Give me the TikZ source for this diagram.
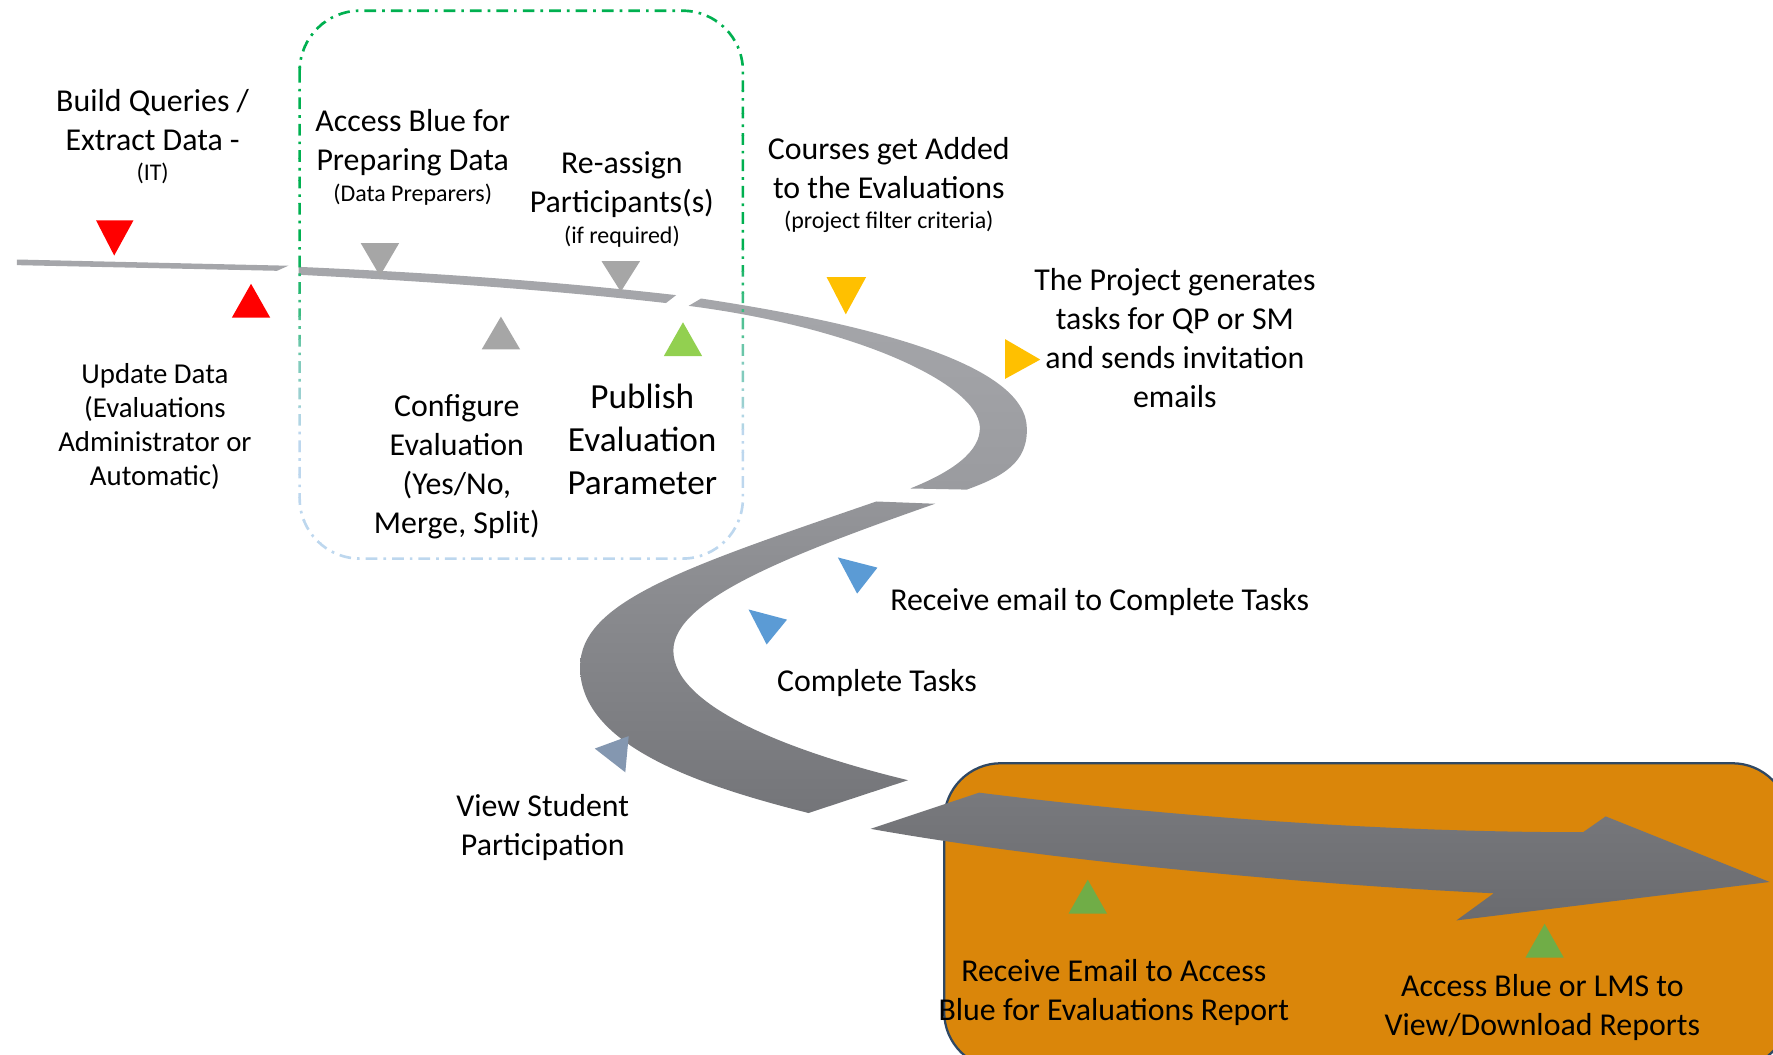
\documentclass[tikz,border=0pt]{standalone}
\usepackage{fontspec}
\setmainfont{Carlito}
\usepackage{tikz}
\usetikzlibrary{calc}

\definecolor{mkred}{RGB}{255,0,0}
\definecolor{mkgrey}{RGB}{166,166,166}
\definecolor{mklime}{RGB}{146,208,80}
\definecolor{mkyellow}{RGB}{255,192,0}
\definecolor{mkblue}{RGB}{91,155,213}
\definecolor{mksteel}{RGB}{132,151,176}
\definecolor{mkgreen}{RGB}{112,173,71}
\definecolor{boxgreen}{RGB}{0,176,80}
\definecolor{boxblue}{RGB}{189,215,238}
\definecolor{boxorange}{RGB}{218,134,10}
\definecolor{boxedge}{RGB}{47,72,100}
\definecolor{roadA}{RGB}{165,166,170}
\definecolor{roadB}{RGB}{154,155,159}
\definecolor{roadC}{RGB}{148,149,153}
\definecolor{roadD}{RGB}{116,117,121}
\definecolor{roadE}{RGB}{120,121,125}
\definecolor{roadF}{RGB}{106,107,111}

\begin{document}
\begin{tikzpicture}[x=0.6pt,y=-0.6pt,
  txt/.style={align=center,inner sep=0pt,font=\fontsize{16.9}{20.7}\selectfont},
  sub/.style={align=center,inner sep=0pt,font=\fontsize{12.7}{15}\selectfont},
  big/.style={align=center,inner sep=0pt,font=\fontsize{18.7}{22.8}\selectfont},
  small/.style={align=center,inner sep=0pt,font=\fontsize{15.3}{18}\selectfont},
  boxline/.style={line width=1.4pt,rounded corners=32pt,
    dash pattern=on 6.2pt off 3.2pt on 1.4pt off 3.2pt}]
\useasboundingbox (0,0) rectangle (1568,933);

% report box
\draw[draw=boxedge,fill=boxorange,line width=1.2pt,rounded corners=30pt]
  (835,675) rectangle (1582,945);

% road
\fill[roadA] (15,229.5) -- (255,235) -- (245,239.5) -- (15,234.5) -- cycle;
\fill[roadA] (264,236) .. controls (400,242) and (500,250) .. (598,261)
  -- (589,268) .. controls (500,258) and (400,250) .. (264,243) -- cycle;
\shade[top color=roadA,bottom color=roadB]
  (620,264) .. controls (760,285) and (905,320) .. (908,377)
  .. controls (910,410) and (885,422) .. (855,433) -- (805,432)
  .. controls (840,418) and (868,400) .. (866.5,377)
  .. controls (864,340) and (760,290) .. (609,270.5) -- cycle;
\shade[top color=roadC,bottom color=roadD]
  (775,443.5) .. controls (605,502) and (513,532) .. (513,590)
  .. controls (513,660) and (620,695) .. (715,719) -- (803,690)
  .. controls (700,665) and (595,625) .. (595.5,575)
  .. controls (596,530) and (700,490) .. (827,445.5) -- cycle;
\shade[top color=roadE,bottom color=roadF]
  (770,733) -- (866,701) .. controls (1000,718) and (1200,736) .. (1400,736)
  -- (1420,722) -- (1565,780) -- (1288,814) -- (1321,790)
  .. controls (1150,782) and (920,760) .. (770,733) -- cycle;

% preparation box, green fading to blue
\foreach \b in {0,...,24} {
  \pgfmathsetmacro\mix{max(0,min(100,(380-\b*20-10)/1.6))}
  \begin{scope}
    \clip (250,\b*20) rectangle (672,\b*20+20);
    \draw[boxline,draw=boxgreen!\mix!boxblue] (265,9.5) rectangle (657,494);
  \end{scope}
}

% markers
\fill[mkred] (85,195) -- (118,195) -- (101,226) -- cycle;
\fill[mkred] (205,281) -- (239,281) -- (222,251) -- cycle;
\fill[mkgrey] (319,215) -- (353,215) -- (336,244) -- cycle;
\fill[mkgrey] (426,309) -- (460,309) -- (443,280) -- cycle;
\fill[mkgrey] (532,231) -- (566,231) -- (549,258) -- cycle;
\fill[mklime] (587,315) -- (621,315) -- (604,285) -- cycle;
\fill[mkyellow] (731,245) -- (766,245) -- (748,278) -- cycle;
\fill[mkyellow] (889,300) -- (889,335) -- (920,318) -- cycle;
\fill[mkblue] (741,493) -- (776,502) -- (758,525) -- cycle;
\fill[mkblue] (662,539) -- (696,548) -- (678,570) -- cycle;
\fill[mksteel] (526,662) -- (556,651) -- (553,683) -- cycle;
\fill[mkgreen] (945,808) -- (979,808) -- (962,778) -- cycle;
\fill[mkgreen] (1349,847) -- (1383,847) -- (1366,817) -- cycle;

% labels
\node[txt] (build) at (135,106) {Build Queries /\\Extract Data -};
\node[sub] (buildsub) at (135,153) {(IT)};
\node[txt] (access) at (365,126) {Access Blue for\\Preparing Data};
\node[sub] (accesssub) at (365,172) {(Data Preparers)};
\node[txt] (reassign) at (550,163) {Re-assign\\Participants(s)};
\node[sub] (reassignsub) at (550,209) {(if required)};
\node[txt] (courses) at (786,149) {Courses get Added\\to the Evaluations};
\node[sub] (coursessub) at (786,196) {(project filter criteria)};
\node[txt] (project) at (1039,299) {The Project generates\\tasks for QP or SM\\and sends invitation\\emails};
\node[small] (update) at (137,377) {Update Data\\(Evaluations\\Administrator or\\Automatic)};
\node[txt] (configure) at (404,413) {Configure\\Evaluation\\(Yes/No,\\Merge, Split)};
\node[big] (publish) at (568,389) {Publish\\Evaluation\\Parameter};
\node[txt,anchor=west] (mailtask) at (787,532) {Receive email to Complete Tasks};
\node[txt,anchor=west] (complete) at (687,604) {Complete Tasks};
\node[txt] (viewpart) at (480,732) {View Student\\Participation};
\node[txt] (mailreport) at (985,878) {Receive Email to Access\\Blue for Evaluations Report};
\node[txt] (lmsreport) at (1364,891) {Access Blue or LMS to\\View/Download Reports};
\end{tikzpicture}
\end{document}
